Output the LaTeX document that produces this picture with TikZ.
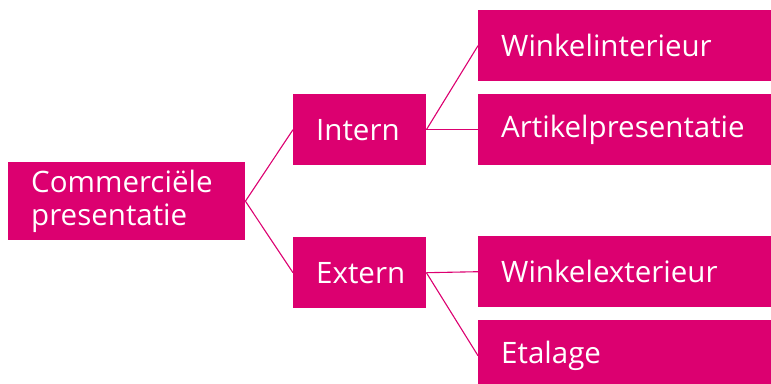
\documentclass[tikz,border=0pt]{standalone}
\usepackage{fontspec}
\setmainfont{Open Sans}
\definecolor{mag}{RGB}{220,0,112}
\begin{document}
\begin{tikzpicture}[x=1pt,y=-1pt,
  box/.style={fill=mag,text=white,anchor=north west,inner xsep=23pt,inner ysep=0pt,
    align=left,font=\fontsize{29.5}{33}\selectfont},
  link/.style={draw=mag,line width=1.1pt}]
\useasboundingbox (0,0) rectangle (771,383);
\clip (0,0) rectangle (771,383);
\node[box,minimum width=237pt,minimum height=78pt,text width=191pt] (root) at (8,162) {Commerciële\\presentatie};
\node[box,minimum width=133pt,minimum height=71pt,text width=87pt] (intern) at (293,94) {Intern};
\node[box,minimum width=133pt,minimum height=71pt,text width=87pt] (extern) at (293,237) {Extern};
\node[box,minimum width=300pt,minimum height=71pt,text width=254pt] (wi) at (478,10) {Winkelinterieur};
\node[box,minimum width=300pt,minimum height=71pt,text width=254pt] (ap) at (478,94) {Artikelpresentatie};
\node[box,minimum width=300pt,minimum height=71pt,text width=254pt] (we) at (478,236) {Winkelexterieur};
\node[box,minimum width=300pt,minimum height=71pt,text width=254pt] (et) at (478,320) {Etalage};
\draw[link] (root.east) -- (intern.west);
\draw[link] (root.east) -- (extern.west);
\draw[link] (intern.east) -- (wi.west);
\draw[link] (intern.east) -- (ap.west);
\draw[link] (extern.east) -- (we.west);
\draw[link] (extern.east) -- (et.west);
\end{tikzpicture}
\end{document}
